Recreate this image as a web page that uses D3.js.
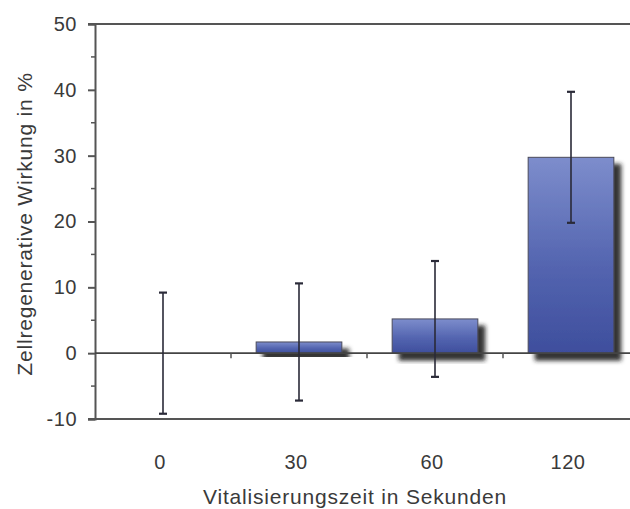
<!DOCTYPE html>
<html><head><meta charset="utf-8">
<script src="https://cdn.jsdelivr.net/npm/d3@7/dist/d3.min.js"></script>
<style>
html,body{margin:0;padding:0;background:#fff;}
svg{display:block;}
text{font-family:"Liberation Sans",Arial,sans-serif;fill:#3a3a3a;}
</style></head>
<body>
<svg id="chart" width="630" height="509"></svg>
<script>
const categories = ["0", "30", "60", "120"];
const means = [0, 1.7, 5.2, 29.75];
const errors = [9.2, 8.9, 8.8, 9.95];
const yTicks = [-10, 0, 10, 20, 30, 40, 50];
const yMinorTicks = [-5, 5, 15, 25, 35, 45];
const xTitle = "Vitalisierungszeit in Sekunden";
const yTitle = "Zellregenerative Wirkung in %";

const svg = d3.select("#chart");
const mLeft = 95, mRight = 639, mTop = 24, mBottom = 419;

const x = d3.scaleBand().domain(categories).range([mLeft, mRight]).paddingInner(0.37).paddingOuter(0.185);
const y = d3.scaleLinear().domain([-10, 50]).range([mBottom, mTop]);

const defs = svg.append("defs");
const grad = defs.append("linearGradient").attr("id","barGrad").attr("x1",0).attr("y1",0).attr("x2",0).attr("y2",1);
grad.append("stop").attr("offset","0%").attr("stop-color","#7d8dcc");
grad.append("stop").attr("offset","55%").attr("stop-color","#5465b0");
grad.append("stop").attr("offset","100%").attr("stop-color","#3e4e9d");
const f = defs.append("filter").attr("id","shadow").attr("x","-20%").attr("y","-20%").attr("width","150%").attr("height","150%");
f.append("feDropShadow").attr("dx",7).attr("dy",7).attr("stdDeviation",2.2).attr("flood-color","#1a1a1a").attr("flood-opacity",0.9);

// top and bottom frame lines
svg.append("line").attr("x1", mLeft-7).attr("x2", 630).attr("y1", y(50)).attr("y2", y(50))
  .attr("stroke","#555").attr("stroke-width",2);
svg.append("line").attr("x1", mLeft-7).attr("x2", 630).attr("y1", y(-10)).attr("y2", y(-10))
  .attr("stroke","#555").attr("stroke-width",2);

// y axis
const yAxis = d3.axisLeft(y).tickValues(yTicks).tickSize(7).tickPadding(11).tickFormat(d => String(d));
const ga = svg.append("g").attr("transform",`translate(${mLeft},0)`).call(yAxis);
ga.select(".domain").attr("stroke","#555").attr("stroke-width",2);
ga.selectAll(".tick line").attr("stroke","#555").attr("stroke-width",2);
ga.selectAll(".tick text").attr("font-size","20px").attr("letter-spacing","0.5px").style("fill","#3a3a3a");
svg.append("g").selectAll("line").data(yMinorTicks).join("line")
  .attr("x1", mLeft-4).attr("x2", mLeft).attr("y1", d=>y(d)).attr("y2", d=>y(d))
  .attr("stroke","#555").attr("stroke-width",1.5);

// bars
const idx = d3.range(categories.length);
svg.append("g").selectAll("rect").data(idx.filter(i=>means[i]!==0)).join("rect")
  .attr("x", i=>x(categories[i]))
  .attr("width", x.bandwidth())
  .attr("y", i=>y(Math.max(0,means[i])))
  .attr("height", i=>Math.abs(y(means[i])-y(0)))
  .attr("fill","url(#barGrad)")
  .attr("stroke","#4a4a5a").attr("stroke-width",1)
  .attr("filter","url(#shadow)");

// zero line
svg.append("line").attr("x1", mLeft).attr("x2", 630).attr("y1", y(0)).attr("y2", y(0))
  .attr("stroke","#444").attr("stroke-width",1.6);
// category boundary ticks
const bounds = categories.slice(1).map(c => x(c) - x.step()*x.paddingInner()/2);
svg.append("g").selectAll("line").data(bounds).join("line")
  .attr("x1", d=>d).attr("x2", d=>d).attr("y1", y(0)).attr("y2", y(0)+5)
  .attr("stroke","#555").attr("stroke-width",1.5);

// error bars
const eg = svg.append("g").attr("stroke","#2a2a38").attr("stroke-width",1.6);
eg.selectAll("line.v").data(idx).join("line").attr("class","v")
  .attr("x1", i=>x(categories[i])+x.bandwidth()/2).attr("x2", i=>x(categories[i])+x.bandwidth()/2)
  .attr("y1", i=>y(means[i]+errors[i])).attr("y2", i=>y(means[i]-errors[i]));
eg.selectAll("line.t").data(idx).join("line").attr("class","t")
  .attr("x1", i=>x(categories[i])+x.bandwidth()/2-4).attr("x2", i=>x(categories[i])+x.bandwidth()/2+4)
  .attr("y1", i=>y(means[i]+errors[i])).attr("y2", i=>y(means[i]+errors[i])).attr("stroke-width",2.2);
eg.selectAll("line.b").data(idx).join("line").attr("class","b")
  .attr("x1", i=>x(categories[i])+x.bandwidth()/2-4).attr("x2", i=>x(categories[i])+x.bandwidth()/2+4)
  .attr("y1", i=>y(means[i]-errors[i])).attr("y2", i=>y(means[i]-errors[i])).attr("stroke-width",2.2);

// x labels
svg.append("g").selectAll("text").data(categories).join("text")
  .attr("x", d=>x(d)+x.bandwidth()/2 - 3).attr("y", 469)
  .attr("text-anchor","middle").attr("font-size","20px").attr("letter-spacing","0.5px")
  .text(d=>d);

// titles
svg.append("text").attr("x", 355).attr("y", 504).attr("text-anchor","middle")
  .attr("font-size","21px").attr("letter-spacing","0.8px").text(xTitle);
svg.append("text").attr("transform","translate(32,224) rotate(-90)").attr("text-anchor","middle")
  .attr("font-size","21px").attr("letter-spacing","0.8px").text(yTitle);
</script>
</body></html>
